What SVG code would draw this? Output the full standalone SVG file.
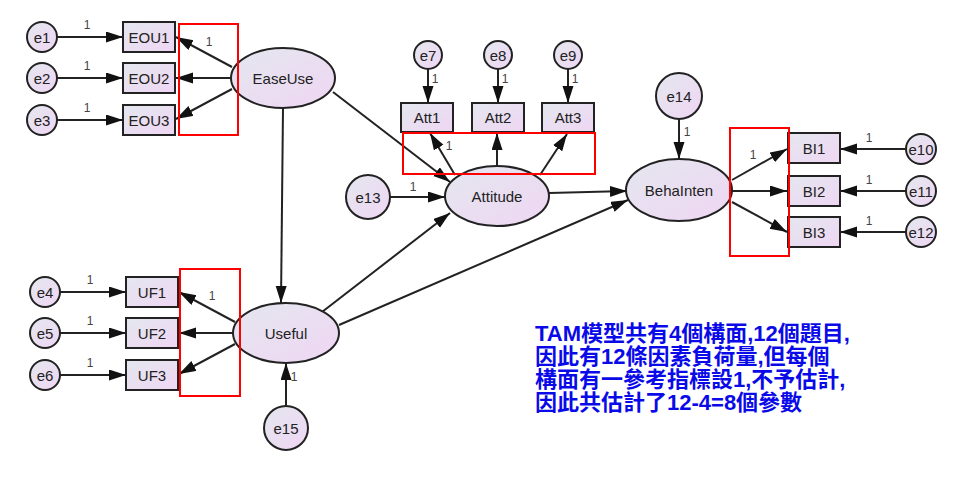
<svg xmlns="http://www.w3.org/2000/svg" width="969" height="477" viewBox="0 0 969 477">
<defs>
<linearGradient id="g" x1="0" y1="0" x2="1" y2="1">
<stop offset="0" stop-color="#e4e7ef"/>
<stop offset="1" stop-color="#efd6f3"/>
</linearGradient>
<marker id="ar" markerUnits="userSpaceOnUse" markerWidth="18" markerHeight="12" refX="17" refY="5.5" orient="auto">
<path d="M0,0 L17,5.5 L0,11 z" fill="#111"/>
</marker>
<style>
.n{fill:url(#g);stroke:#222;stroke-width:2}
.t{font-family:"Liberation Sans",Arial,sans-serif;font-size:15px;fill:#222;text-anchor:middle;dominant-baseline:central}
.w{font-family:"Liberation Sans",Arial,sans-serif;font-size:12px;fill:#444;text-anchor:middle}
.c line{stroke:#222;stroke-width:2;marker-end:url(#ar)}
.r{fill:none;stroke:#ff0000;stroke-width:2}
.b{font-family:"Liberation Sans","Noto Sans CJK TC",sans-serif;font-size:22px;font-weight:bold;fill:#0a0ae8}
</style>
</defs>
<rect width="969" height="477" fill="#fff"/>

<g id="connectors" class="c">
<line x1="57" y1="37" x2="123" y2="37"/>
<line x1="57" y1="78" x2="123" y2="78"/>
<line x1="57" y1="120" x2="123" y2="120"/>
<line x1="232" y1="67" x2="176" y2="37"/>
<line x1="231" y1="78" x2="176" y2="78"/>
<line x1="232" y1="89" x2="176" y2="119"/>
<line x1="283" y1="108" x2="281" y2="303"/>
<line x1="60" y1="292" x2="126" y2="292"/>
<line x1="60" y1="333" x2="126" y2="333"/>
<line x1="60" y1="375" x2="126" y2="375"/>
<line x1="235" y1="322" x2="179" y2="292"/>
<line x1="233" y1="333" x2="179" y2="333"/>
<line x1="235" y1="344" x2="179" y2="374"/>
<line x1="286" y1="406" x2="286" y2="363"/>
<line x1="428" y1="69" x2="428" y2="103"/>
<line x1="498" y1="69" x2="498" y2="103"/>
<line x1="568" y1="69" x2="568" y2="103"/>
<line x1="455" y1="175" x2="430" y2="133"/>
<line x1="497" y1="166" x2="497" y2="133"/>
<line x1="540" y1="175" x2="567" y2="134"/>
<line x1="390" y1="197" x2="445" y2="197"/>
<line x1="333" y1="92" x2="450" y2="182"/>
<line x1="322" y1="312" x2="450" y2="213"/>
<line x1="549" y1="193" x2="627" y2="191"/>
<line x1="339" y1="325" x2="628" y2="200"/>
<line x1="679" y1="119" x2="679" y2="159"/>
<line x1="906" y1="149" x2="840" y2="149"/>
<line x1="906" y1="191" x2="840" y2="191"/>
<line x1="906" y1="232" x2="840" y2="232"/>
<line x1="732" y1="180" x2="787" y2="149"/>
<line x1="732" y1="191" x2="787" y2="191"/>
<line x1="732" y1="202" x2="787" y2="232"/>
</g>

<g id="weights">
<text class="w" x="87" y="29">1</text>
<text class="w" x="87" y="70">1</text>
<text class="w" x="87" y="112">1</text>
<text class="w" x="209" y="46">1</text>
<text class="w" x="90" y="284">1</text>
<text class="w" x="90" y="325">1</text>
<text class="w" x="90" y="367">1</text>
<text class="w" x="212" y="300">1</text>
<text class="w" x="294" y="381">1</text>
<text class="w" x="435" y="83">1</text>
<text class="w" x="505" y="83">1</text>
<text class="w" x="575" y="83">1</text>
<text class="w" x="449" y="150">1</text>
<text class="w" x="413" y="191">1</text>
<text class="w" x="687" y="136">1</text>
<text class="w" x="869" y="142">1</text>
<text class="w" x="869" y="184">1</text>
<text class="w" x="869" y="225">1</text>
<text class="w" x="753" y="159">1</text>
</g>

<g id="e1"><circle class="n" cx="42" cy="37" r="15"/><text class="t" x="42" y="37">e1</text></g>
<g id="e2"><circle class="n" cx="42" cy="78" r="15"/><text class="t" x="42" y="78">e2</text></g>
<g id="e3"><circle class="n" cx="42" cy="120" r="15"/><text class="t" x="42" y="120">e3</text></g>
<g id="EOU1"><rect class="n" x="123" y="22" width="52" height="30"/><text class="t" x="149" y="37">EOU1</text></g>
<g id="EOU2"><rect class="n" x="123" y="63" width="52" height="30"/><text class="t" x="149" y="78">EOU2</text></g>
<g id="EOU3"><rect class="n" x="123" y="105" width="52" height="30"/><text class="t" x="149" y="120">EOU3</text></g>
<g id="EaseUse"><ellipse class="n" cx="283" cy="78" rx="52" ry="30"/><text class="t" x="283" y="78">EaseUse</text></g>

<g id="e4"><circle class="n" cx="45" cy="292" r="15"/><text class="t" x="45" y="292">e4</text></g>
<g id="e5"><circle class="n" cx="45" cy="333" r="15"/><text class="t" x="45" y="333">e5</text></g>
<g id="e6"><circle class="n" cx="45" cy="375" r="15"/><text class="t" x="45" y="375">e6</text></g>
<g id="UF1"><rect class="n" x="126" y="277" width="52" height="30"/><text class="t" x="152" y="292">UF1</text></g>
<g id="UF2"><rect class="n" x="126" y="318" width="52" height="30"/><text class="t" x="152" y="333">UF2</text></g>
<g id="UF3"><rect class="n" x="126" y="360" width="52" height="30"/><text class="t" x="152" y="375">UF3</text></g>
<g id="Useful"><ellipse class="n" cx="286" cy="333" rx="53" ry="30"/><text class="t" x="286" y="333">Useful</text></g>
<g id="e15"><circle class="n" cx="286" cy="428" r="22"/><text class="t" x="286" y="428">e15</text></g>

<g id="e7"><circle class="n" cx="428" cy="55" r="14"/><text class="t" x="428" y="55">e7</text></g>
<g id="e8"><circle class="n" cx="498" cy="55" r="14"/><text class="t" x="498" y="55">e8</text></g>
<g id="e9"><circle class="n" cx="568" cy="55" r="14"/><text class="t" x="568" y="55">e9</text></g>
<g id="Att1"><rect class="n" x="401" y="103" width="52" height="29"/><text class="t" x="427" y="117.5">Att1</text></g>
<g id="Att2"><rect class="n" x="472" y="103" width="52" height="29"/><text class="t" x="498" y="117.5">Att2</text></g>
<g id="Att3"><rect class="n" x="542" y="103" width="52" height="29"/><text class="t" x="568" y="117.5">Att3</text></g>
<g id="Attitude"><ellipse class="n" cx="497" cy="196" rx="52" ry="30"/><text class="t" x="497" y="196">Attitude</text></g>
<g id="e13"><circle class="n" cx="368" cy="197" r="22"/><text class="t" x="368" y="197">e13</text></g>

<g id="BehaInten"><ellipse class="n" cx="679" cy="190" rx="53" ry="31"/><text class="t" x="679" y="190">BehaInten</text></g>
<g id="e14"><circle class="n" cx="679" cy="96" r="23"/><text class="t" x="679" y="96">e14</text></g>
<g id="BI1"><rect class="n" x="788" y="133" width="52" height="30"/><text class="t" x="814" y="148">BI1</text></g>
<g id="BI2"><rect class="n" x="788" y="176" width="52" height="30"/><text class="t" x="814" y="191">BI2</text></g>
<g id="BI3"><rect class="n" x="788" y="217" width="52" height="30"/><text class="t" x="814" y="232">BI3</text></g>
<g id="e10"><circle class="n" cx="921" cy="149" r="15"/><text class="t" x="921" y="149">e10</text></g>
<g id="e11"><circle class="n" cx="921" cy="191" r="15"/><text class="t" x="921" y="191">e11</text></g>
<g id="e12"><circle class="n" cx="921" cy="232" r="15"/><text class="t" x="921" y="232">e12</text></g>

<g id="highlights">
<rect class="r" x="179" y="24" width="59" height="111"/>
<rect class="r" x="180" y="269" width="60" height="127"/>
<rect class="r" x="403" y="133" width="192" height="41"/>
<rect class="r" x="730" y="128" width="59" height="128"/>
</g>

<g id="note">
<text class="b" x="535" y="341">TAM模型共有4個構面,12個題目,</text>
<text class="b" x="535" y="364">因此有12條因素負荷量,但每個</text>
<text class="b" x="535" y="387">構面有一參考指標設1,不予估計,</text>
<text class="b" x="535" y="410">因此共估計了12-4=8個參數</text>
</g>
</svg>
